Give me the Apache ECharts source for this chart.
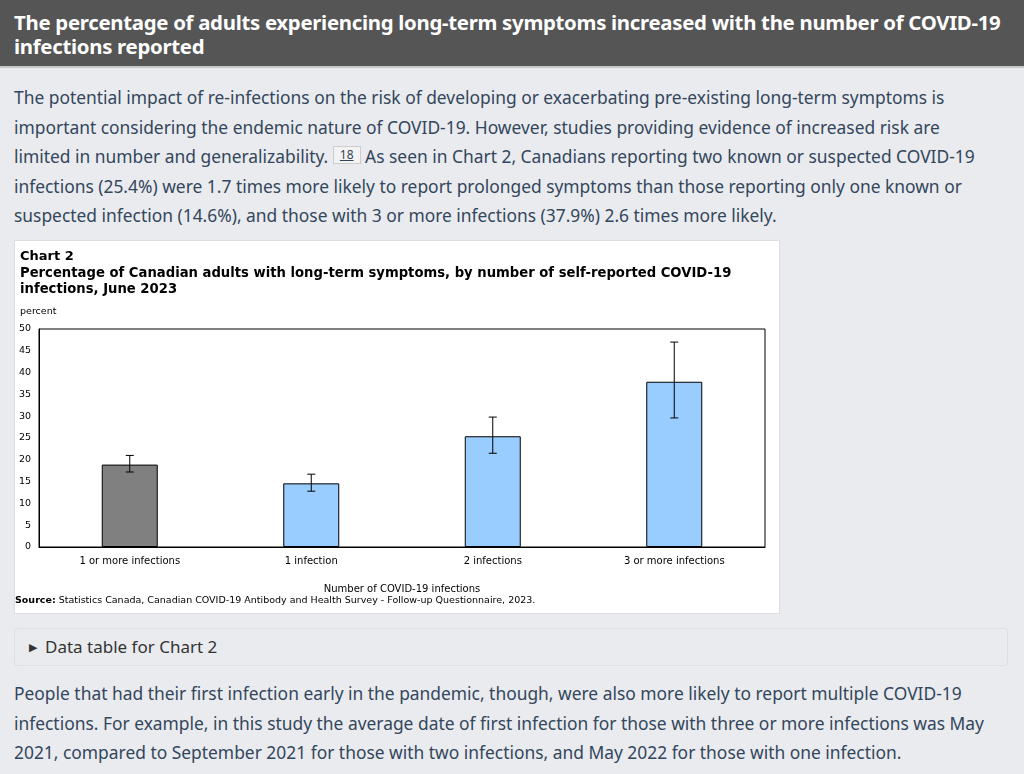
<!DOCTYPE html>
<html lang="en">
<head>
<meta charset="UTF-8">
<title>Chart 2</title>
<script src="https://cdn.jsdelivr.net/npm/echarts@6/dist/echarts.min.js"></script>
<style>
    html, body { margin: 0; padding: 0; background: #e9ebee; }
    body { width: 1024px; height: 774px; overflow: hidden; font-family: "Noto Sans", sans-serif; }
    .head {
        background: #555555; color: #fff; font-weight: bold; font-size: 20.4px;
        letter-spacing: -0.3px; line-height: 24px; padding: 10px 14px 8px 14px;
        border-bottom: 2px solid #c8c8c8;
    }
    p { margin: 0; padding: 0 14px; color: #33465c; font-size: 17.4px; line-height: 29.6px; width: 980px; }
    p.top { margin-top: 15px; }
    .fn { display: inline-block; font-size: 12px; line-height: 16px; padding: 0 6px; border: 1px solid #ccc;
          background: #f3f3f3; text-decoration: underline; vertical-align: 4px; }
    #chart { position: absolute; left: 14px; top: 240px; width: 766px; height: 374px;
             background: #fff; border: 1px solid #ddd; box-sizing: border-box; }
    .details { position: absolute; left: 14px; top: 628px; width: 994px; height: 38px; box-sizing: border-box;
               border: 1px solid #dcdfe3; border-radius: 3px; color: #333; font-size: 17px; line-height: 36px; padding-left: 14px; }
    .details span { font-size: 11px; margin-right: 8px; vertical-align: 2px; }
    p.bottom { position: absolute; top: 679px; }
</style>
</head>
<body>
<div class="head">The percentage of adults experiencing long-term symptoms increased with the number of COVID-19 infections reported</div>
<p class="top">The potential impact of re-infections on the risk of developing or exacerbating pre-existing long-term symptoms is important considering the endemic nature of COVID-19. However, studies providing evidence of increased risk are limited in number and generalizability. <span class="fn">18</span> As seen in Chart 2, Canadians reporting two known or suspected COVID-19 infections (25.4%) were 1.7 times more likely to report prolonged symptoms than those reporting only one known or suspected infection (14.6%), and those with 3 or more infections (37.9%) 2.6 times more likely.</p>
<div id="chart"></div>
<div class="details"><span>&#9654;</span>Data table for Chart 2</div>
<p class="bottom">People that had their first infection early in the pandemic, though, were also more likely to report multiple COVID-19 infections. For example, in this study the average date of first infection for those with three or more infections was May 2021, compared to September 2021 for those with two infections, and May 2022 for those with one infection.</p>

<script>
    var categories = ['1 or more infections', '1 infection', '2 infections', '3 or more infections'];
    var values = [18.9, 14.6, 25.4, 37.9];
    var lower = [17.2, 12.8, 21.5, 29.6];
    var upper = [21.0, 16.7, 29.8, 47.0];
    var colors = ['#808080', '#99ccff', '#99ccff', '#99ccff'];

    var myChart = echarts.init(document.getElementById('chart'));
    var font = 'DejaVu Sans';

    var errData = [];
    for (var i = 0; i < categories.length; i++) {
        errData.push([i, lower[i], upper[i]]);
    }

    var option = {
        animation: false,
        textStyle: { fontFamily: font },
        title: [
            { text: 'Chart 2', left: 0, top: 4, textStyle: { fontSize: 13, fontWeight: 'bold', color: '#000', fontFamily: font } },
            { text: 'Percentage of Canadian adults with long-term symptoms, by number of self-reported COVID-19\ninfections, June 2023',
              left: 0, top: 20, textStyle: { fontSize: 13.2, fontWeight: 'bold', color: '#000', lineHeight: 16, fontFamily: font } },
            { text: 'percent', left: 0, top: 61, textStyle: { fontSize: 9.5, fontWeight: 'normal', color: '#000', fontFamily: font } },
            { text: '{b|Source:} Statistics Canada, Canadian COVID-19 Antibody and Health Survey - Follow-up Questionnaire, 2023.',
              left: 0, top: 355, padding: 0, textStyle: { fontSize: 9.5, fontWeight: 'normal', color: '#000', fontFamily: font,
                rich: { b: { fontWeight: 'bold', fontSize: 9.5, fontFamily: font } } } }
        ],
        grid: { left: 24, right: 14, top: 88, bottom: 66, show: true, borderColor: '#000', borderWidth: 1 },
        xAxis: {
            type: 'category', data: categories,
            name: 'Number of COVID-19 infections', nameLocation: 'middle', nameGap: 37,
            nameTextStyle: { fontSize: 10, color: '#000', fontFamily: font },
            axisLine: { lineStyle: { color: '#000' } },
            axisTick: { show: false },
            axisLabel: { fontSize: 10, color: '#000', margin: 9, fontFamily: font }
        },
        yAxis: {
            type: 'value', min: 0, max: 50, interval: 5,
            axisLine: { show: true, lineStyle: { color: '#000' } },
            axisTick: { show: false },
            splitLine: { show: false },
            axisLabel: { fontSize: 9.5, color: '#000', margin: 8, fontFamily: font }
        },
        series: [
            {
                type: 'bar', barWidth: 56,
                data: values.map(function (v, i) {
                    return { value: v, itemStyle: { color: colors[i], borderColor: '#000', borderWidth: 1 } };
                })
            },
            {
                type: 'custom', z: 10,
                renderItem: function (params, api) {
                    var x = api.value(0);
                    var lo = api.coord([x, api.value(1)]);
                    var hi = api.coord([x, api.value(2)]);
                    var st = { stroke: '#000', lineWidth: 1 };
                    return {
                        type: 'group',
                        children: [
                            { type: 'line', shape: { x1: lo[0], y1: lo[1], x2: hi[0], y2: hi[1] }, style: st },
                            { type: 'line', shape: { x1: lo[0] - 4, y1: lo[1], x2: lo[0] + 4, y2: lo[1] }, style: st },
                            { type: 'line', shape: { x1: hi[0] - 4, y1: hi[1], x2: hi[0] + 4, y2: hi[1] }, style: st }
                        ]
                    };
                },
                encode: { x: 0, y: [1, 2] },
                data: errData
            }
        ]
    };

    myChart.setOption(option);
</script>
</body>
</html>
